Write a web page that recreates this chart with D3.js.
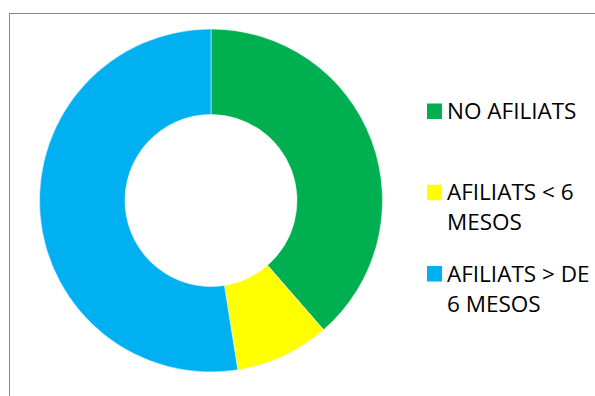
<!DOCTYPE html>
<html>
<head>
<meta charset="utf-8">
<script src="https://cdn.jsdelivr.net/npm/d3@7"></script>
<style>
  body { margin: 0; background: #fff; }
  svg { display: block; font-family: "Open Sans", sans-serif; }
</style>
</head>
<body>
<svg id="chart" width="595" height="396"></svg>
<script>
// categories and shares (percent)
var categories = ["NO AFILIATS", "AFILIATS < 6 MESOS", "AFILIATS > DE 6 MESOS"];
var values = [38.6, 8.9, 52.5];
var colors = ["#00B050", "#FFFF00", "#00B0F0"];
// how the legend breaks each label
var legendLines = [["NO AFILIATS"], ["AFILIATS < 6", "MESOS"], ["AFILIATS > DE", "6 MESOS"]];

var width = 595, height = 396;
var cx = 211, cy = 200.5, outerR = 171.5, innerR = 86;

var svg = d3.select("#chart");

// chart area border (runs off the right and bottom)
svg.append("rect")
    .attr("x", 9.5)
    .attr("y", 13.5)
    .attr("width", 700)
    .attr("height", 500)
    .attr("fill", "none")
    .attr("stroke", "#898989")
    .attr("stroke-width", 1);

var data = categories.map(function(c, i) { return {name: c, value: values[i]}; });

var color = d3.scaleOrdinal().domain(categories).range(colors);

var pie = d3.pie()
    .sort(null)
    .value(function(d) { return d.value; });

var arc = d3.arc()
    .innerRadius(innerR)
    .outerRadius(outerR);

var g = svg.append("g")
    .attr("transform", "translate(" + cx + "," + cy + ")");

g.selectAll("path")
    .data(pie(data))
  .enter().append("path")
    .attr("d", arc)
    .attr("fill", function(d) { return color(d.data.name); })
    .attr("stroke", "#fff")
    .attr("stroke-width", 0.5);

// legend, y is the baseline of the first line
var legendY = d3.scalePoint().domain(categories).range([119, 281.5]);

var legend = svg.selectAll(".legend")
    .data(categories)
  .enter().append("g")
    .attr("class", "legend")
    .attr("transform", function(d) { return "translate(427," + legendY(d) + ")"; });

legend.append("rect")
    .attr("x", 0)
    .attr("y", -15.5)
    .attr("width", 15)
    .attr("height", 15.5)
    .attr("fill", function(d) { return color(d); });

legend.each(function(d, i) {
  var t = d3.select(this).append("text")
      .attr("x", 20)
      .attr("y", 0)
      .attr("font-size", 22.5)
      .attr("fill", "#000");
  legendLines[i].forEach(function(line, j) {
    t.append("tspan")
        .attr("x", 20)
        .attr("dy", j === 0 ? 0 : 30)
        .text(line);
  });
});
</script>
</body>
</html>
